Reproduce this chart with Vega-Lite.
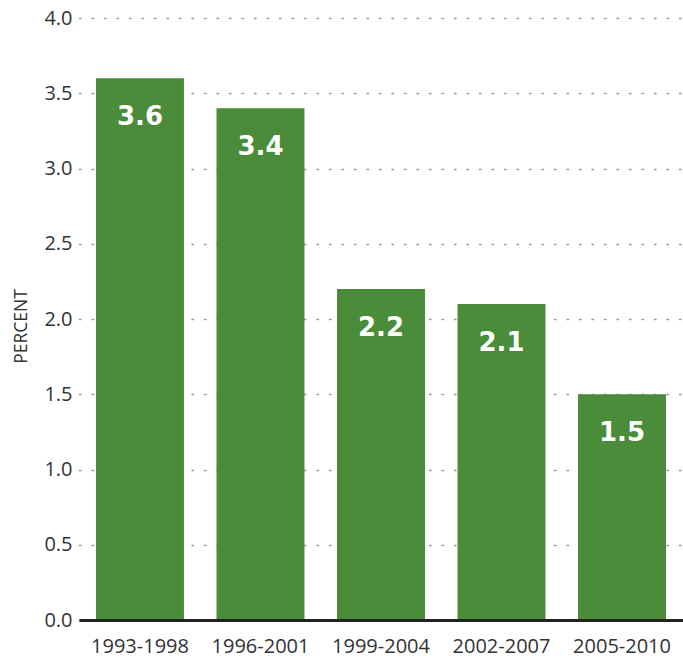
{
  "$schema": "https://vega.github.io/schema/vega-lite/v6.json",
  "width": 604,
  "height": 602,
  "autosize": {"type": "none"},
  "padding": {"left": 79, "top": 18, "right": 0, "bottom": 42},
  "background": "white",
  "config": {
    "view": {"stroke": null},
    "font": "Open Sans"
  },
  "data": {
    "values": [
      {"period": "1993-1998", "value": 3.6},
      {"period": "1996-2001", "value": 3.4},
      {"period": "1999-2004", "value": 2.2},
      {"period": "2002-2007", "value": 2.1},
      {"period": "2005-2010", "value": 1.5}
    ]
  },
  "encoding": {
    "x": {
      "field": "period",
      "type": "nominal",
      "sort": null,
      "scale": {"paddingInner": 0.27, "paddingOuter": 0.141},
      "axis": {
        "title": null,
        "labelAngle": 0,
        "labelFont": "Open Sans",
        "labelFontSize": 20,
        "labelColor": "#333333",
        "labelPadding": 16,
        "ticks": false,
        "domain": true,
        "domainColor": "#222222",
        "domainWidth": 3,
        "zindex": 1
      }
    },
    "y": {
      "field": "value",
      "type": "quantitative",
      "scale": {"domain": [0, 4], "nice": false},
      "axis": {
        "title": "PERCENT",
        "titleFont": "Open Sans",
        "titleFontSize": 17.5,
        "titleFontWeight": "normal",
        "titleColor": "#333333",
        "titlePadding": 13,
        "titleY": 308,
        "titleBaseline": "bottom",
        "values": [0, 0.5, 1, 1.5, 2, 2.5, 3, 3.5, 4],
        "format": ".1f",
        "labelFont": "Open Sans",
        "labelFontSize": 20,
        "labelColor": "#333333",
        "labelPadding": 7,
        "ticks": false,
        "domain": false,
        "grid": true,
        "gridColor": "#999999",
        "gridWidth": 1.5,
        "gridDash": [1.5, 11],
        "gridCap": "round"
      }
    }
  },
  "layer": [
    {
      "mark": {"type": "bar", "color": "#4a8c3a"}
    },
    {
      "mark": {
        "type": "text",
        "color": "white",
        "font": "DejaVu Sans",
        "fontSize": 26,
        "fontWeight": "bold",
        "baseline": "middle",
        "align": "center",
        "dy": 39
      },
      "encoding": {
        "text": {"field": "value", "type": "quantitative", "format": ".1f"}
      }
    }
  ]
}
